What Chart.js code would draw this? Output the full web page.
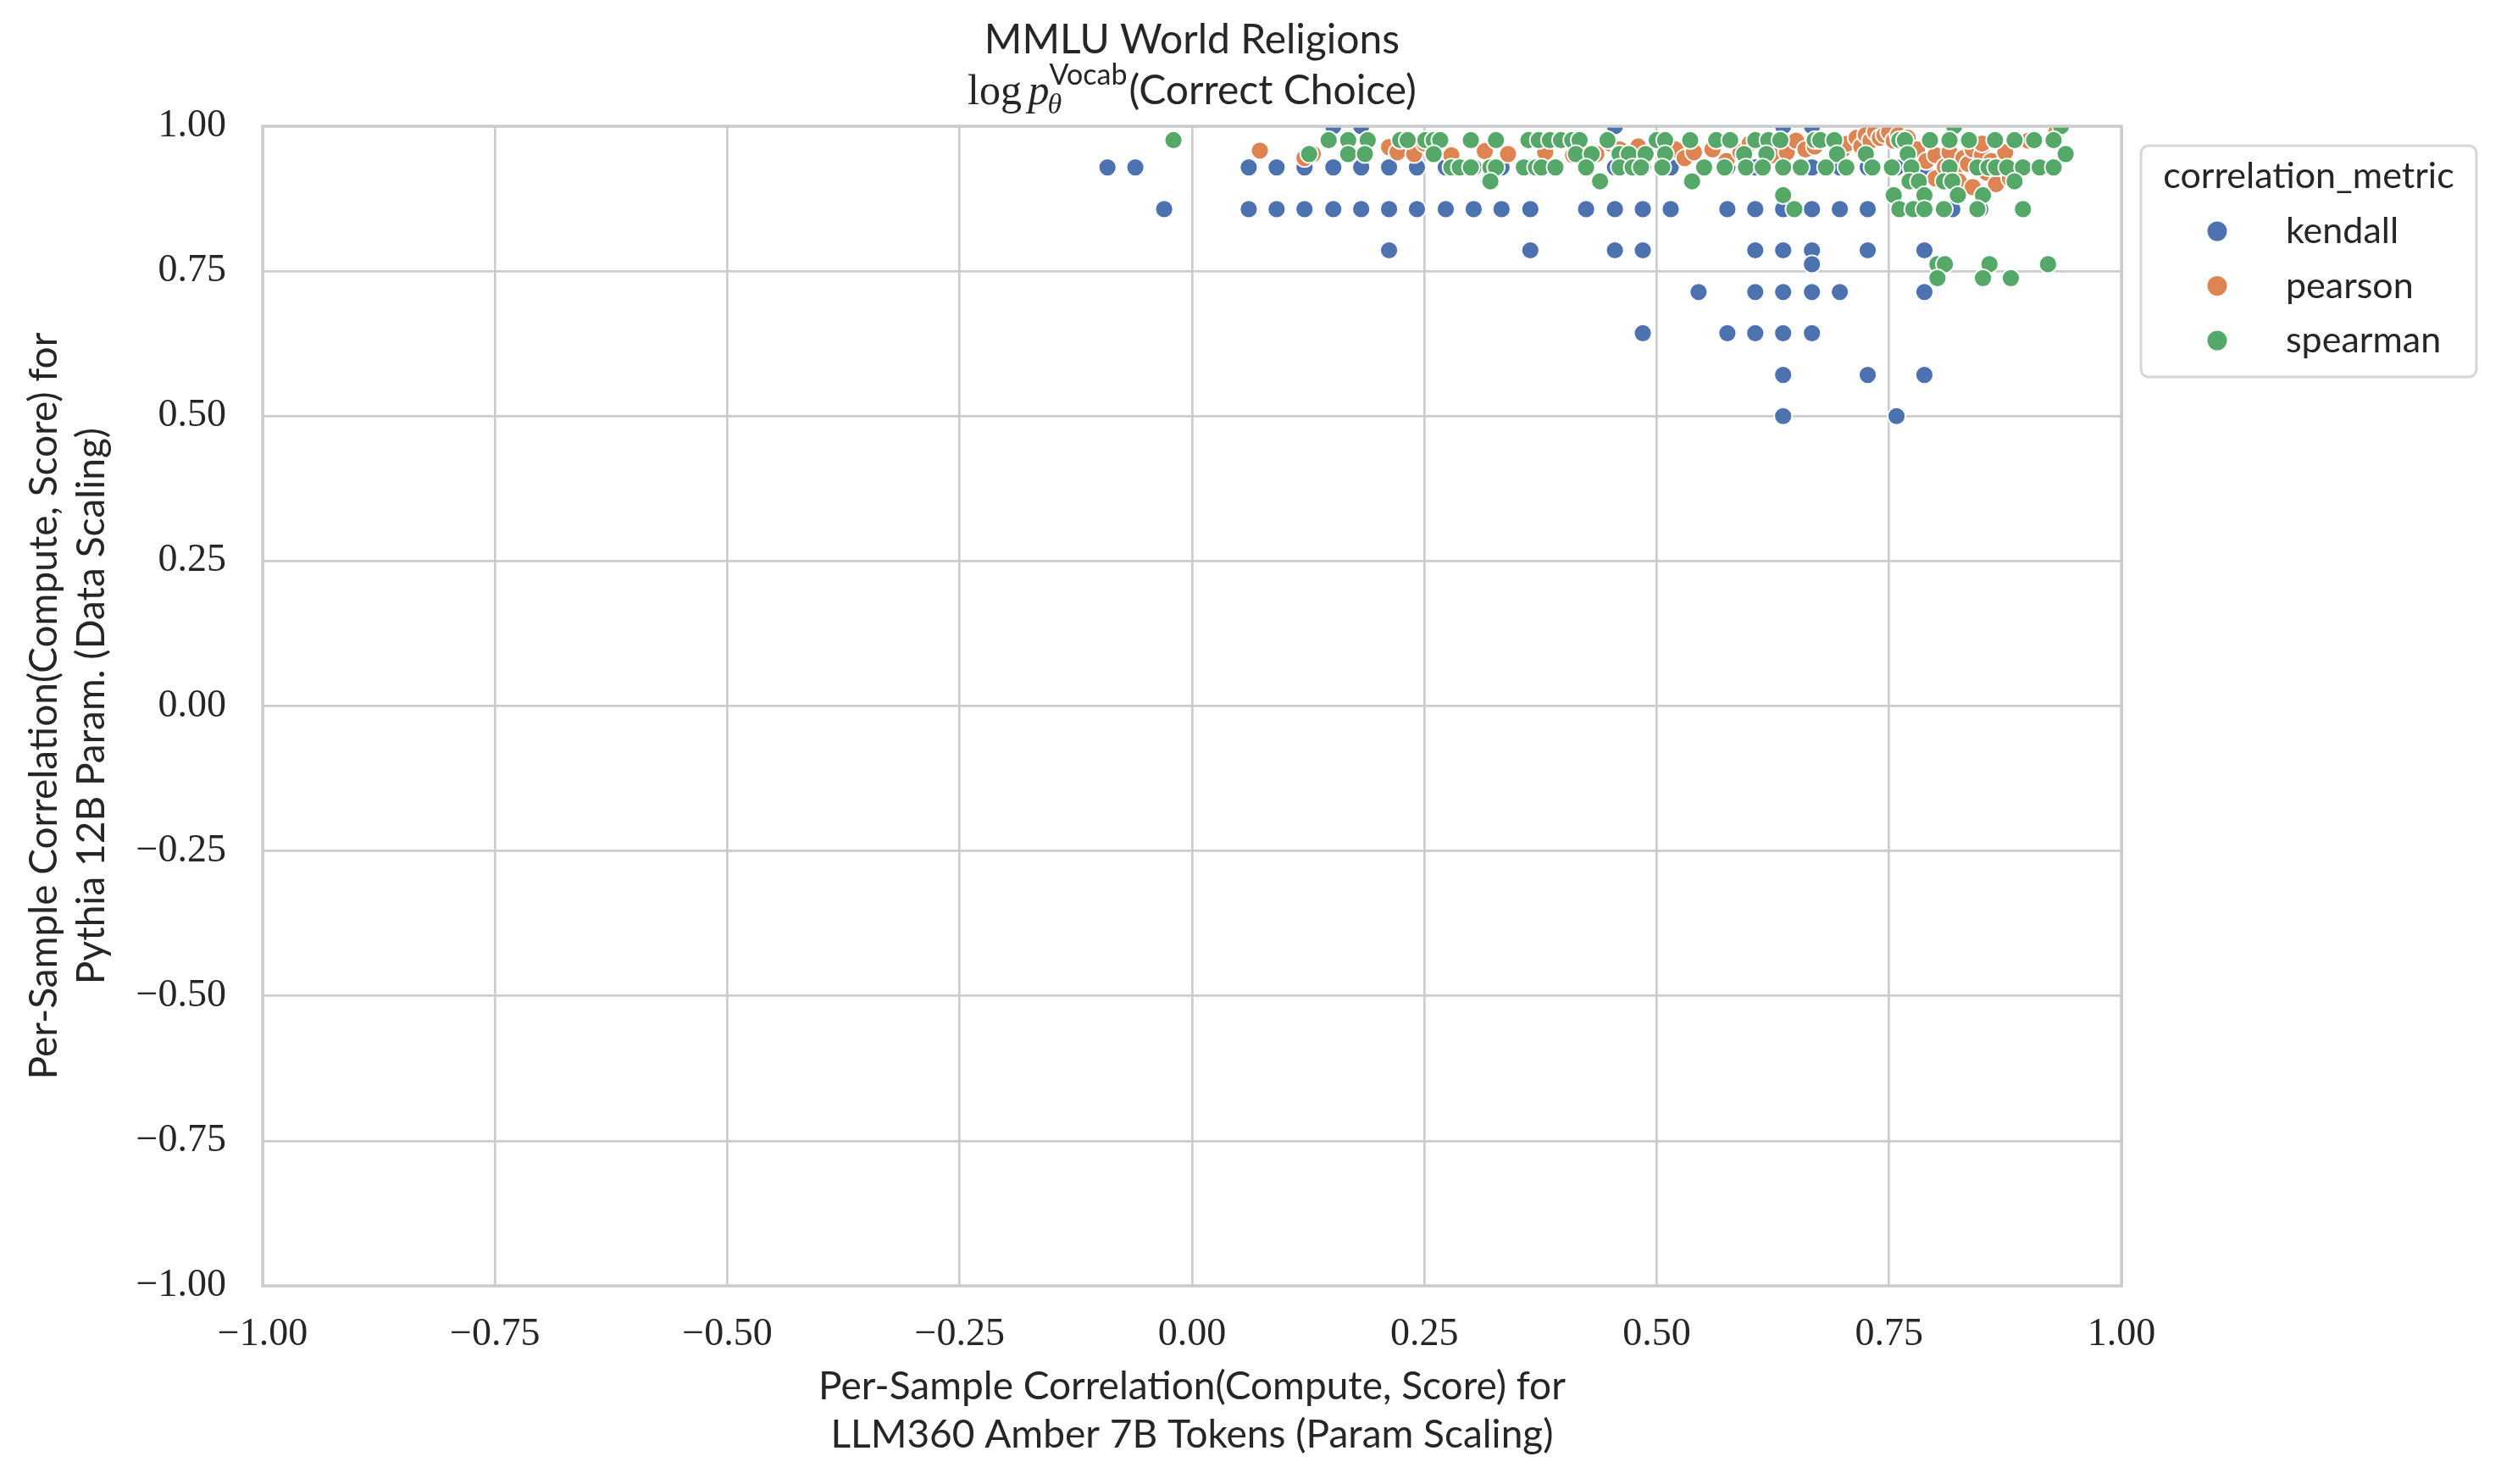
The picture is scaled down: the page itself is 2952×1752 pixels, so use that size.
<!DOCTYPE html>
<html>
<head>
<meta charset="utf-8">
<script src="https://cdn.jsdelivr.net/npm/chart.js@4.4.1/dist/chart.umd.min.js"></script>
<style>
  html, body { margin: 0; padding: 0; background: #ffffff; }
  canvas { display: block; }
</style>
</head>
<body>
<canvas id="mycanvas" width="2952" height="1752"></canvas>
<script>
// ---- data ----
var titleText = 'MMLU World Religions';
var xTitleLines = ['Per-Sample Correlation(Compute, Score) for', 'LLM360 Amber 7B Tokens (Param Scaling)'];
var yTitleLines = ['Per-Sample Correlation(Compute, Score) for', 'Pythia 12B Param. (Data Scaling)'];
var legendTitle = 'correlation_metric';
var metricNames = ['kendall', 'pearson', 'spearman'];
var metricColors = ['#4c72b0', '#dd8452', '#55a868'];
var tickValues = [-1, -0.75, -0.5, -0.25, 0, 0.25, 0.5, 0.75, 1];

// kendall: y values sit on discrete levels
var kendallLevels = [1.0, 0.929, 0.857, 0.786, 0.762, 0.714, 0.643, 0.571, 0.5];
var kendallXByLevel = [
  [0.152, 0.182, 0.455, 0.636, 0.667],
  [-0.091, -0.061, 0.061, 0.091, 0.121, 0.152, 0.182, 0.212, 0.242, 0.273, 0.303, 0.333, 0.364,
   0.424, 0.455, 0.485, 0.515, 0.576, 0.606, 0.636, 0.667, 0.697, 0.727, 0.758, 0.788, 0.818, 0.848],
  [-0.030, 0.061, 0.091, 0.121, 0.152, 0.182, 0.212, 0.242, 0.273, 0.303, 0.333, 0.364,
   0.424, 0.455, 0.485, 0.515, 0.576, 0.606, 0.636, 0.667, 0.697, 0.727, 0.818, 0.848],
  [0.212, 0.364, 0.455, 0.485, 0.606, 0.636, 0.667, 0.727, 0.788],
  [0.667],
  [0.545, 0.606, 0.636, 0.667, 0.697, 0.788],
  [0.485, 0.576, 0.606, 0.636, 0.667],
  [0.636, 0.727, 0.788],
  [0.636, 0.758]
];

// pearson: continuous values
var pearsonX = [0.073, 0.121, 0.130, 0.212, 0.221, 0.239, 0.250, 0.279, 0.300, 0.315, 0.340, 0.380,
  0.410, 0.435, 0.450, 0.460, 0.480, 0.520, 0.530, 0.540, 0.560, 0.575, 0.590, 0.600, 0.625, 0.640,
  0.650, 0.660, 0.670, 0.700, 0.705, 0.715, 0.720, 0.725, 0.730, 0.735, 0.740, 0.745, 0.750, 0.755,
  0.760, 0.770, 0.780, 0.790, 0.800, 0.800, 0.810, 0.815, 0.820, 0.825, 0.830, 0.835, 0.840, 0.840,
  0.850, 0.855, 0.860, 0.865, 0.870, 0.875, 0.880, 0.850, 0.900, 0.930];
var pearsonY = [0.958, 0.945, 0.952, 0.964, 0.955, 0.952, 0.970, 0.950, 0.975, 0.957, 0.952, 0.955,
  0.950, 0.952, 0.970, 0.960, 0.965, 0.960, 0.945, 0.955, 0.960, 0.940, 0.955, 0.970, 0.950, 0.955,
  0.975, 0.960, 0.965, 0.960, 0.970, 0.980, 0.965, 0.985, 0.975, 0.990, 0.980, 0.985, 0.990, 0.975,
  0.985, 0.980, 0.960, 0.940, 0.950, 0.910, 0.930, 0.955, 0.920, 0.905, 0.945, 0.935, 0.960, 0.895,
  0.950, 0.920, 0.940, 0.900, 0.930, 0.955, 0.910, 0.970, 0.975, 0.990];

// spearman: discrete levels too
var spearmanLevels = [1.0, 0.976, 0.952, 0.929, 0.905, 0.881, 0.857, 0.762, 0.738];
var spearmanXByLevel = [
  [0.820, 0.935],
  [-0.020, 0.147, 0.168, 0.189, 0.224, 0.232, 0.251, 0.260, 0.267, 0.300, 0.327, 0.362, 0.373, 0.385,
   0.397, 0.409, 0.417, 0.447, 0.500, 0.509, 0.536, 0.564, 0.579, 0.606, 0.620, 0.633, 0.670, 0.676,
   0.691, 0.761, 0.767, 0.794, 0.815, 0.836, 0.864, 0.885, 0.906, 0.927],
  [0.126, 0.168, 0.186, 0.260, 0.413, 0.430, 0.460, 0.470, 0.488, 0.509, 0.594, 0.618, 0.694, 0.725,
   0.770, 0.940],
  [0.279, 0.288, 0.300, 0.321, 0.327, 0.357, 0.370, 0.376, 0.391, 0.424, 0.460, 0.474, 0.483, 0.506,
   0.551, 0.573, 0.596, 0.614, 0.636, 0.655, 0.682, 0.704, 0.732, 0.753, 0.774, 0.815, 0.845, 0.857,
   0.865, 0.877, 0.894, 0.912, 0.927],
  [0.321, 0.439, 0.538, 0.772, 0.782, 0.809, 0.818, 0.885],
  [0.636, 0.755, 0.788, 0.824, 0.851],
  [0.648, 0.761, 0.776, 0.788, 0.809, 0.845, 0.894],
  [0.802, 0.810, 0.858, 0.921],
  [0.802, 0.851, 0.881]
];

// ---- helpers ----
function levelPoints(levels, xsByLevel) {
  var pts = [];
  for (var i = 0; i < levels.length; i++) {
    for (var j = 0; j < xsByLevel[i].length; j++) {
      pts.push({x: xsByLevel[i][j], y: levels[i]});
    }
  }
  return pts;
}
function pairPoints(xs, ys) {
  var pts = [];
  for (var i = 0; i < xs.length; i++) pts.push({x: xs[i], y: ys[i]});
  return pts;
}
function tickLabel(v) {
  return (v < 0 ? '\u2212' : '') + Math.abs(v).toFixed(2);
}

var SANS = 'Lato';
var SERIF = '"Liberation Serif"';
var GRID = '#cccccc';

function pointStyle(color, order) {
  return {
    backgroundColor: color,
    borderColor: '#ffffff',
    borderWidth: 1.8,
    pointRadius: 10.5,
    pointHoverRadius: 10.5,
    clip: 0,
    order: order
  };
}

var datasets = [
  Object.assign({label: metricNames[0], data: levelPoints(kendallLevels, kendallXByLevel)}, pointStyle(metricColors[0], 3)),
  Object.assign({label: metricNames[1], data: pairPoints(pearsonX, pearsonY)}, pointStyle(metricColors[1], 2)),
  Object.assign({label: metricNames[2], data: levelPoints(spearmanLevels, spearmanXByLevel)}, pointStyle(metricColors[2], 1))
];

// frame drawn over the points, like the axes spines
var framePlugin = {
  id: 'frame',
  afterDatasetsDraw: function(chart) {
    var a = chart.chartArea, ctx = chart.ctx;
    ctx.save();
    ctx.strokeStyle = GRID;
    ctx.lineWidth = 3.5;
    ctx.strokeRect(a.left, a.top, a.right - a.left, a.bottom - a.top);
    ctx.restore();
  }
};

// titles, axis titles and legend box
var textPlugin = {
  id: 'texts',
  afterDraw: function(chart) {
    var ctx = chart.ctx, a = chart.chartArea;
    var cx = (a.left + a.right) / 2;
    var cy = (a.top + a.bottom) / 2;
    ctx.save();
    ctx.fillStyle = '#262626';
    ctx.textBaseline = 'alphabetic';

    // title line 1
    ctx.textAlign = 'center';
    ctx.font = '48px ' + SANS;
    ctx.fillText(titleText, cx, 63);

    // title line 2: log p_theta^Vocab(Correct Choice)
    var base = 123;
    var parts = [
      {t: 'log', f: '50px ' + SERIF, dy: 0},
      {t: ' ', f: '30px ' + SERIF, dy: 0},
      {t: 'p', f: 'italic 50px ' + SERIF, dy: 0}
    ];
    var supF = '34px ' + SANS, subF = 'italic 34px ' + SERIF;
    var rest = '(Correct Choice)', restF = '48px ' + SANS;
    var w = 0;
    parts.forEach(function(p) { ctx.font = p.f; p.w = ctx.measureText(p.t).width; w += p.w; });
    ctx.font = supF; var supW = ctx.measureText('Vocab').width;
    ctx.font = restF; var restW = ctx.measureText(rest).width;
    w += supW + 2 + restW;
    var x = cx - w / 2;
    ctx.textAlign = 'left';
    parts.forEach(function(p) { ctx.font = p.f; ctx.fillText(p.t, x, base + p.dy); x += p.w; });
    ctx.font = supF; ctx.fillText('Vocab', x, base - 23);
    ctx.font = subF; ctx.fillText('\u03b8', x - 2, base + 11);
    x += supW + 2;
    ctx.font = restF; ctx.fillText(rest, x, base);

    // x axis title
    ctx.textAlign = 'center';
    ctx.font = '46px ' + SANS;
    ctx.fillText(xTitleLines[0], cx, 1652);
    ctx.fillText(xTitleLines[1], cx, 1709);

    // y axis title
    ctx.save();
    ctx.translate(67, cy);
    ctx.rotate(-Math.PI / 2);
    ctx.fillText(yTitleLines[0], 0, 0);
    ctx.restore();
    ctx.save();
    ctx.translate(123, cy);
    ctx.rotate(-Math.PI / 2);
    ctx.fillText(yTitleLines[1], 0, 0);
    ctx.restore();

    // legend
    var lx = 2527, ly = 172, lw = 396, lh = 273;
    ctx.beginPath();
    ctx.roundRect(lx, ly, lw, lh, 9);
    ctx.fillStyle = '#ffffff';
    ctx.fill();
    ctx.strokeStyle = '#d6d6d6';
    ctx.lineWidth = 3;
    ctx.stroke();
    ctx.fillStyle = '#262626';
    ctx.font = '43px ' + SANS;
    ctx.textAlign = 'center';
    ctx.fillText(legendTitle, lx + lw / 2, 222);
    ctx.textAlign = 'left';
    for (var i = 0; i < metricNames.length; i++) {
      var my = 273 + i * 64.5;
      ctx.beginPath();
      ctx.arc(2617, my, 11.5, 0, Math.PI * 2);
      ctx.fillStyle = metricColors[i];
      ctx.fill();
      ctx.fillStyle = '#262626';
      ctx.fillText(metricNames[i], 2698, my + 14);
    }
    ctx.restore();
  }
};

function axisOptions(isY) {
  return {
    type: 'linear',
    min: -1,
    max: 1,
    afterBuildTicks: function(scale) {
      scale.ticks = tickValues.map(function(v) { return {value: v}; });
    },
    afterFit: function(scale) {
      if (isY) scale.width = 310; else scale.height = 234;
    },
    grid: { color: GRID, lineWidth: 2.7, drawTicks: false },
    border: { display: false },
    ticks: {
      padding: isY ? 43 : 30,
      color: '#262626',
      font: { family: 'Liberation Serif', size: 46 },
      callback: function(v) { return tickLabel(v); },
      maxRotation: 0,
      autoSkip: false
    }
  };
}

var ctx = document.getElementById('mycanvas');
var chart = new Chart(ctx, {
  type: 'scatter',
  data: { datasets: datasets },
  options: {
    responsive: false,
    animation: false,
    devicePixelRatio: 1,
    layout: { padding: { left: 0, right: 448, top: 149, bottom: 0 } },
    plugins: {
      legend: { display: false },
      title: { display: false },
      tooltip: { enabled: false }
    },
    scales: {
      x: axisOptions(false),
      y: axisOptions(true)
    }
  },
  plugins: [framePlugin, textPlugin]
});
</script>
</body>
</html>
